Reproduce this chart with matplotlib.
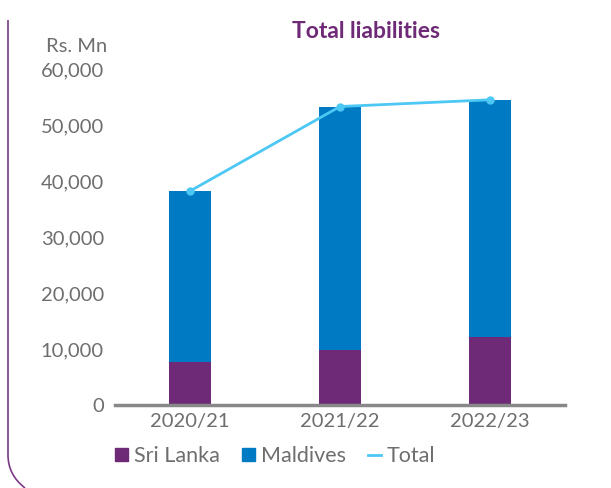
import numpy as np
import matplotlib
matplotlib.use("Agg")
from matplotlib import pyplot as plt
from matplotlib.path import Path
from matplotlib.patches import PathPatch, Patch
from matplotlib.lines import Line2D

years = ['2020/21', '2021/22', '2022/23']
sri_lanka = [7700, 9800, 12150]
maldives = [30500, 43500, 42350]
total = [38200, 53300, 54500]
yticks = [0, 10000, 20000, 30000, 40000, 50000, 60000]

c_sl = '#6E2A76'
c_md = '#007AC2'
c_tot = '#4DC8F4'
grey = '#6E6E6E'

plt.rcParams['font.family'] = ['Lato', 'DejaVu Sans']

W, H = 611, 488
fig = plt.figure(figsize=(W / 100, H / 100), dpi=100)
ax = fig.add_axes([115 / W, 1 - 405 / H, 450 / W, 336 / H])

x = np.arange(len(years))
ax.bar(x, sri_lanka, width=0.28, color=c_sl, zorder=2)
ax.bar(x, maldives, width=0.28, bottom=sri_lanka, color=c_md, zorder=2)
ax.plot(x, total, color=c_tot, lw=2, marker='o', ms=5, zorder=3)

ax.set_xlim(-0.5, 2.5)
ax.set_ylim(0, 60000)
ax.set_yticks(yticks)
ax.set_yticklabels(['{:,}'.format(v) for v in yticks])
ax.set_xticks(x)
ax.set_xticklabels(years)
ax.tick_params(axis='both', length=0, labelsize=14.5, labelcolor=grey)
ax.tick_params(axis='y', pad=8)
ax.tick_params(axis='x', pad=6)
for s in ['top', 'right', 'left']:
    ax.spines[s].set_visible(False)
ax.spines['bottom'].set_color('#888888')
ax.spines['bottom'].set_linewidth(2.5)

fig.text(366 / W, 1 - 31 / H, 'Total liabilities', color=c_sl, fontsize=16.5,
         fontweight='bold', ha='center', va='center')
fig.text(107 / W, 1 - 47 / H, 'Rs. Mn', color=grey, fontsize=14.5,
         ha='right', va='center')

handles = [Patch(color=c_sl, label='Sri Lanka'),
           Patch(color=c_md, label='Maldives'),
           Line2D([0], [0], color=c_tot, lw=2, label='Total')]
fig.legend(handles=handles, loc='center left', bbox_to_anchor=(115 / W, 1 - 456 / H),
           ncol=3, frameon=False, fontsize=15.5, labelcolor=grey,
           borderpad=0, borderaxespad=0,
           handlelength=0.6, handleheight=0.6, handletextpad=0.3, columnspacing=1.0)

# purple frame line on the left
verts = [(8, 20), (8, 455), (8, 475), (25, 488)]
codes = [Path.MOVETO, Path.LINETO, Path.CURVE3, Path.CURVE3]
verts = [(vx / W, 1 - vy / H) for vx, vy in verts]
fig.add_artist(PathPatch(Path(verts, codes), transform=fig.transFigure,
                         fill=False, edgecolor='#7B3A87', lw=1.2))

fig.savefig('out.png', dpi=100)
